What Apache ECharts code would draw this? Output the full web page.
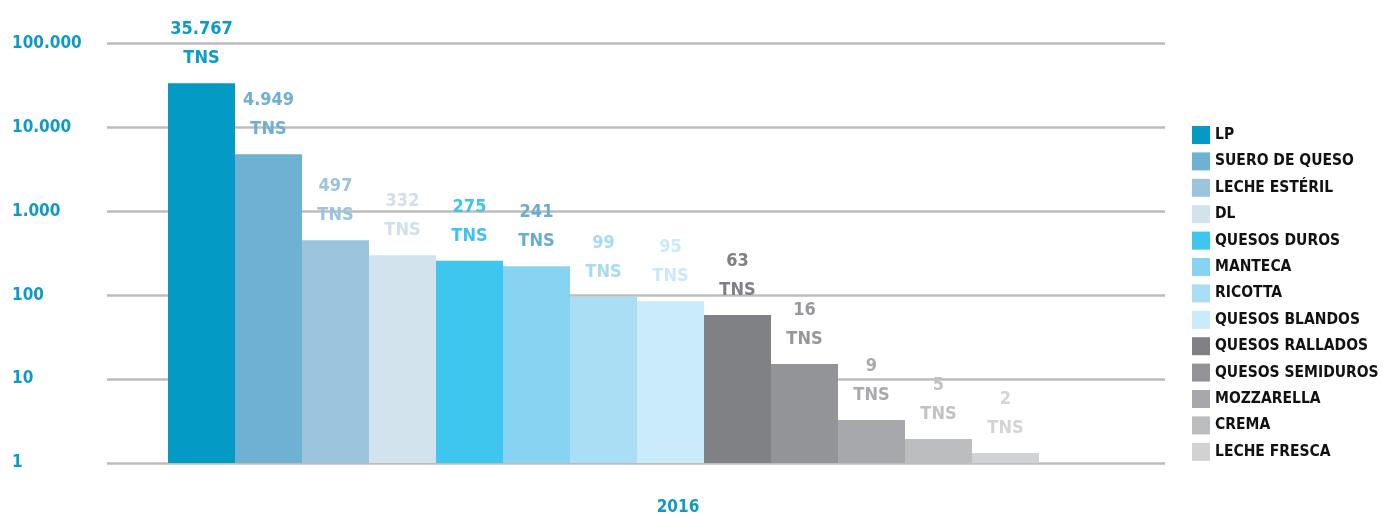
<!DOCTYPE html>
<html>
<head>
<meta charset="utf-8">
<script src="https://cdn.jsdelivr.net/npm/echarts@6/dist/echarts.min.js"></script>
<style>
  html, body { margin: 0; padding: 0; background: #fff; }
  #chart { width: 1383px; height: 514px; }
</style>
</head>
<body>
<div id="chart"></div>
<script>
// products, in drawing order
const products = ['LP', 'SUERO DE QUESO', 'LECHE ESTÉRIL', 'DL', 'QUESOS DUROS', 'MANTECA', 'RICOTTA',
  'QUESOS BLANDOS', 'QUESOS RALLADOS', 'QUESOS SEMIDUROS', 'MOZZARELLA', 'CREMA', 'LECHE FRESCA'];
// label text printed above each bar
const labelValues = ['35.767', '4.949', '497', '332', '275', '241', '99', '95', '63', '16', '9', '5', '2'];
// bar heights as drawn
const barHeights = [33400, 4770, 452, 299, 256, 221, 95.5, 84.8, 57.8, 15.1, 3.25, 1.93, 1.32];
const barColors = ['#039bc5', '#6fb1d2', '#9ac5dd', '#d2e3ed', '#3fc6ef', '#86d4f2', '#a9def5',
  '#caebfa', '#808184', '#939498', '#a7a8ab', '#bcbdbf', '#d1d2d4'];
const labelColors = ['#0a9cc4', '#6fb0d0', '#9cc4dc', '#cfe0ec', '#3fc4ee', '#6aaccc', '#a6dcf3',
  '#cbe9f8', '#7f8085', '#96979b', '#a9aaad', '#c2c2c4', '#d3d4d6'];
const years = ['2016'];

const FONT = "'Liberation Sans Narrow', 'DejaVu Sans Condensed', sans-serif";
const BLUE = '#0e9ac6';

const chart = echarts.init(document.getElementById('chart'), null, { renderer: 'canvas' });

const series = products.map((name, i) => ({
  name,
  type: 'bar',
  xAxisIndex: 1,
  yAxisIndex: 1,
  barGap: '0%',
  barCategoryGap: '0%',
  itemStyle: { color: barColors[i] },
  label: {
    show: true,
    position: 'top',
    distance: 10,
    formatter: () => labelValues[i] + '\nTNS',
    color: labelColors[i],
    fontFamily: FONT,
    fontWeight: 'bold',
    fontSize: 18,
    lineHeight: 29
  },
  data: [barHeights[i]]
}));

chart.setOption({
  backgroundColor: '#fff',
  animation: false,
  title: {
    text: years[0],
    left: 673,
    top: 494,
    textAlign: 'center',
    textStyle: { color: BLUE, fontFamily: FONT, fontWeight: 'bold', fontSize: 17 }
  },
  legend: {
    orient: 'vertical',
    left: 1187,
    top: 121,
    itemWidth: 18,
    itemHeight: 18,
    itemGap: 8.4,
    icon: 'rect',
    data: products,
    textStyle: { color: '#111', fontFamily: FONT, fontWeight: 'bold', fontSize: 15.5, lineHeight: 18 }
  },
  grid: [
    { left: 107, right: 218, top: 43.3, bottom: 51 },   // gridlines + axis labels
    { left: 168, right: 344, top: 43.3, bottom: 51 }    // bars
  ],
  xAxis: [
    { type: 'category', gridIndex: 0, data: years, show: false },
    { type: 'category', gridIndex: 1, data: years, show: false }
  ],
  yAxis: [
    {
      type: 'log', gridIndex: 0, logBase: 10, min: 1, max: 100000,
      axisLine: { show: false }, axisTick: { show: false },
      splitLine: { lineStyle: { color: '#bdbdbd', width: 2.5 } },
      axisLabel: {
        align: 'left', margin: 95,
        color: BLUE, fontFamily: FONT, fontWeight: 'bold', fontSize: 17,
        formatter: v => String(Math.round(v)).replace(/\B(?=(\d{3})+(?!\d))/g, '.')
      }
    },
    { type: 'log', gridIndex: 1, logBase: 10, min: 1, max: 100000, show: false, splitLine: { show: false } }
  ],
  series
});
</script>
</body>
</html>
